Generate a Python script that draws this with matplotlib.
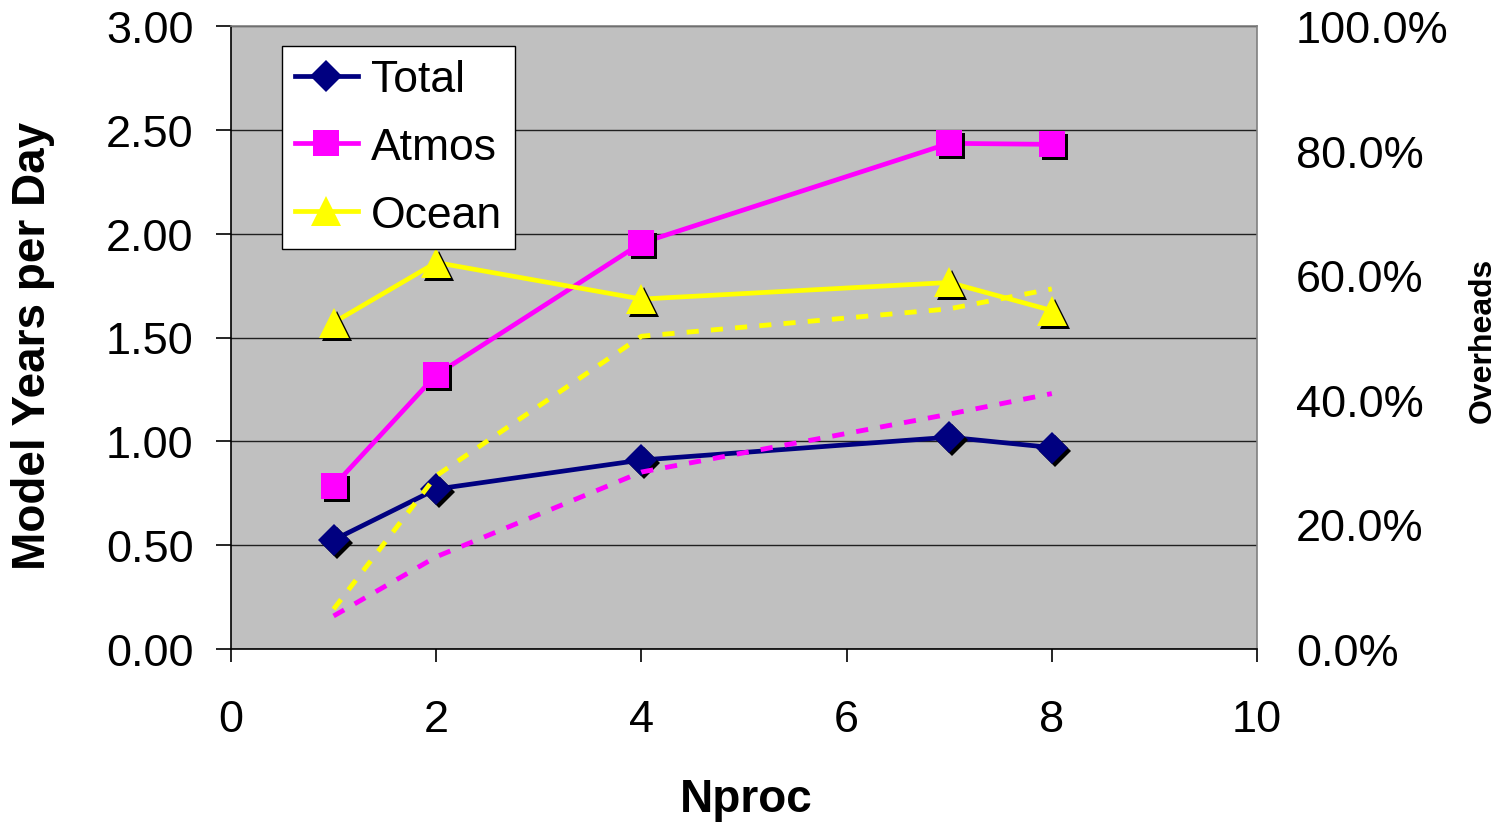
import matplotlib
matplotlib.use("Agg")
import matplotlib.pyplot as plt
from matplotlib.transforms import ScaledTranslation
from matplotlib.ticker import FormatStrFormatter, FuncFormatter

plt.rcParams['font.family'] = ['Liberation Sans', 'DejaVu Sans']

nproc = [1, 2, 4, 7, 8]
total = [0.525, 0.77, 0.91, 1.02, 0.97]
atmos = [0.785, 1.32, 1.955, 2.435, 2.43]
ocean = [1.572, 1.861, 1.685, 1.765, 1.63]
# overheads in percent, right axis
atmos_overhead = [5.3, 14.8, 28.4, 37.7, 41.0]
ocean_overhead = [6.4, 27.8, 50.2, 54.6, 57.8]

series = [
    ('Total', total, '#000080', 'D', 16),
    ('Atmos', atmos, '#FF00FF', 's', 18.5),
    ('Ocean', ocean, '#FFFF00', '^', 21),
]

fig = plt.figure(figsize=(15.11, 8.28), dpi=100)
ax = fig.add_axes([231 / 1511, 1 - 650 / 828, 1026 / 1511, 623 / 828])
ax.set_facecolor('#C0C0C0')
ax.set_xlim(0, 10)
ax.set_ylim(0, 3.0)
ax.set_xticks([0, 2, 4, 6, 8, 10])
ax.set_yticks([0, 0.5, 1.0, 1.5, 2.0, 2.5, 3.0])
ax.yaxis.set_major_formatter(FormatStrFormatter('%.2f'))
ax.grid(axis='y', color='#202020', linewidth=1.0)
ax.set_axisbelow(True)
for side in ['left', 'bottom']:
    ax.spines[side].set_color('black')
    ax.spines[side].set_linewidth(1.2)
for side in ['top', 'right']:
    ax.spines[side].set_color('#808080')
    ax.spines[side].set_linewidth(1.2)
ax.tick_params(axis='y', direction='out', length=11, width=1.2, pad=16, labelsize=32.5)
ax.tick_params(axis='x', direction='out', length=9, width=1.2, pad=27, labelsize=32.5)

shadow = ax.transData + ScaledTranslation(3 / 100, -3 / 100, fig.dpi_scale_trans)
for name, vals, color, marker, ms in series:
    ax.plot(nproc, vals, color=color, linewidth=3.4, zorder=3)
    ax.plot(nproc, vals, linestyle='none', marker=marker, markersize=ms,
            color='black', markeredgewidth=0, transform=shadow, zorder=4)
    ax.plot(nproc, vals, linestyle='none', marker=marker, markersize=ms,
            color=color, markeredgewidth=0, zorder=5)

# legend handles
handles = [ax.plot([], [], color=c, linewidth=3.4, marker=m, markersize=ms,
                   markeredgewidth=0, label=n)[0]
           for n, _, c, m, ms in series]
leg = ax.legend(handles=handles, loc='upper left',
                bbox_to_anchor=((282 - 231) / 1026, (650 - 47) / 623),
                borderaxespad=0, fontsize=32, frameon=True, fancybox=False,
                edgecolor='black', facecolor='white', framealpha=1,
                handlelength=1.4, handletextpad=0.3, labelspacing=0.6,
                borderpad=0.3)
leg.get_frame().set_linewidth(1.0)
leg.set_zorder(10)

ax2 = ax.twinx()
ax2.set_ylim(0, 100)
ax2.set_yticks([0, 20, 40, 60, 80, 100])
ax2.yaxis.set_major_formatter(FuncFormatter(lambda v, p: f'{v:.1f}%'))
ax2.tick_params(axis='y', length=0, pad=28, labelsize=32.5)
for s in ax2.spines.values():
    s.set_visible(False)
ax2.plot(nproc, atmos_overhead, color='#FF00FF', linewidth=3.5, dashes=(2.5, 2.5))
ax2.plot(nproc, ocean_overhead, color='#FFFF00', linewidth=3.5, dashes=(2.5, 2.5))

fig.text(33 / 1511, 1 - 346 / 828, 'Model Years per Day', rotation=90,
         ha='center', va='center', fontsize=33, fontweight='bold')
fig.text(746 / 1511, 1 - 800 / 828, 'Nproc', ha='center', va='center',
         fontsize=33, fontweight='bold')
fig.text(1483 / 1511, 1 - 340 / 828, 'Overheads', rotation=90,
         ha='center', va='center', fontsize=23, fontweight='bold')

fig.savefig('out.png', dpi=100)
